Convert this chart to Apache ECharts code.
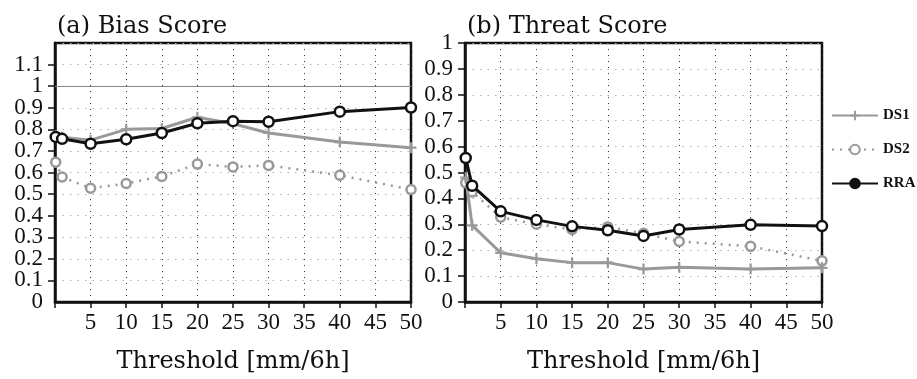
<!DOCTYPE html>
<html>
<head>
<meta charset="utf-8">
<script src="https://cdn.jsdelivr.net/npm/echarts@6/dist/echarts.min.js"></script>
<style>
  html, body { margin: 0; padding: 0; background: #fff; }
  #chart { width: 917px; height: 379px; }
</style>
</head>
<body>
<div id="chart"></div>
<script>
// Precipitation thresholds (mm/6h)
const thresholds = [0.1, 1, 5, 10, 15, 20, 25, 30, 40, 50];

// (a) Bias score
const biasDS1 = [0.772, 0.763, 0.750, 0.800, 0.804, 0.856, 0.826, 0.783, 0.741, 0.715];
const biasDS2 = [0.648, 0.579, 0.527, 0.549, 0.582, 0.639, 0.626, 0.633, 0.587, 0.521];
const biasRRA = [0.765, 0.756, 0.733, 0.754, 0.783, 0.828, 0.838, 0.835, 0.882, 0.901];

// (b) Threat score
const threatDS1 = [0.480, 0.296, 0.190, 0.167, 0.152, 0.152, 0.127, 0.134, 0.127, 0.132];
const threatDS2 = [0.460, 0.425, 0.327, 0.300, 0.280, 0.290, 0.265, 0.234, 0.215, 0.159];
const threatRRA = [0.556, 0.449, 0.350, 0.317, 0.292, 0.277, 0.255, 0.280, 0.298, 0.293];

const panelTitles = ['(a) Bias Score', '(b) Threat Score'];
const xName = 'Threshold [mm/6h]';
const biasReference = 1;

const GRAY = '#999999';
const SERIF = '"DejaVu Serif", "Liberation Serif", serif';
const TICK_FONT = '"Liberation Serif", "DejaVu Serif", serif';
const PLUS = 'path://M4,0H6V4H10V6H6V10H4V6H0V4H4Z';

const pairs = (ys) => thresholds.map((t, i) => [t, ys[i]]);
const fmt = (v) => String(Math.round(v * 10) / 10);

function xAxisFor(gridIndex) {
  return {
    type: 'value', gridIndex, min: 0, max: 50, interval: 5,
    name: xName, nameLocation: 'middle', nameGap: 48,
    nameTextStyle: { fontFamily: SERIF, fontSize: 24, color: '#111' },
    axisLine: { show: true, lineStyle: { color: '#111', width: 2.5 } },
    axisTick: { show: true, length: 6, lineStyle: { color: '#111', width: 1.5 } },
    axisLabel: {
      fontFamily: TICK_FONT, fontSize: 23, color: '#111', margin: 9,
      formatter: (v) => (v === 0 ? '' : String(v))
    },
    splitLine: { show: true, lineStyle: { color: '#333', width: 1, type: [1, 5] } }
  };
}

function yAxisFor(gridIndex, max, showMin, showMax) {
  return {
    type: 'value', gridIndex, position: 'left', min: 0, max, interval: 0.1,
    axisLine: { show: true, lineStyle: { color: '#111', width: 2.5 } },
    axisTick: { show: true, length: 7, lineStyle: { color: '#111', width: 1.5 } },
    axisLabel: {
      fontFamily: TICK_FONT, fontSize: 23, color: '#111', margin: 12,
      showMinLabel: showMin, showMaxLabel: showMax,
      formatter: fmt
    },
    splitLine: { show: true, lineStyle: { color: '#b0b0b0', width: 1, type: [1.5, 6] } }
  };
}

// Companion axis that only carries the "0" label of the tightly spaced bias axis
function zeroLabelAxis(gridIndex, max) {
  return {
    type: 'value', gridIndex, position: 'left', offset: 0, min: 0, max, interval: 0.1,
    axisLine: { show: false }, axisTick: { show: false }, splitLine: { show: false },
    axisLabel: {
      fontFamily: TICK_FONT, fontSize: 23, color: '#111', margin: 12,
      showMinLabel: true, showMaxLabel: false,
      formatter: (v) => (v === 0 ? '0' : '')
    }
  };
}

function seriesFor(gridIndex, d1, d2, rra, withRef) {
  const s = [
    {
      name: 'DS2', type: 'line', xAxisIndex: gridIndex, yAxisIndex: gridIndex,
      data: pairs(d2), clip: false, z: 3,
      symbol: 'circle', symbolSize: 9, showAllSymbol: true,
      lineStyle: { color: GRAY, width: 2.5, type: [2, 6] },
      itemStyle: { color: '#fff', borderColor: GRAY, borderWidth: 2.5 }
    },
    {
      name: 'DS1', type: 'line', xAxisIndex: gridIndex, yAxisIndex: gridIndex,
      data: pairs(d1), clip: false, z: 4,
      symbol: PLUS, symbolSize: 11, showAllSymbol: true,
      lineStyle: { color: GRAY, width: 3 },
      itemStyle: { color: GRAY, borderWidth: 0 }
    },
    {
      name: 'RRA', type: 'line', xAxisIndex: gridIndex, yAxisIndex: gridIndex,
      data: pairs(rra), clip: false, z: 5,
      symbol: 'circle', symbolSize: 10, showAllSymbol: true,
      lineStyle: { color: '#111', width: 3 },
      itemStyle: { color: '#fff', borderColor: '#111', borderWidth: 2.5 }
    }
  ];
  if (withRef) {
    s[0].markLine = {
      silent: true, symbol: 'none', animation: false,
      label: { show: false },
      lineStyle: { color: '#888', width: 1.2, type: 'solid' },
      data: [{ yAxis: biasReference }]
    };
  }
  return s;
}

const chart = echarts.init(document.getElementById('chart'), null, { renderer: 'canvas' });

chart.setOption({
  animation: false,
  backgroundColor: '#fff',
  title: [
    { text: panelTitles[0], left: 52, top: 10,
      textStyle: { fontFamily: SERIF, fontSize: 24, fontWeight: 'normal', color: '#111' } },
    { text: panelTitles[1], left: 462, top: 10,
      textStyle: { fontFamily: SERIF, fontSize: 24, fontWeight: 'normal', color: '#111' } }
  ],
  grid: [
    { left: 55, right: 506, top: 43, bottom: 69, show: true, borderColor: '#111', borderWidth: 2.5, backgroundColor: 'transparent' },
    { left: 465, right: 95, top: 43, bottom: 69, show: true, borderColor: '#111', borderWidth: 2.5, backgroundColor: 'transparent' }
  ],
  xAxis: [xAxisFor(0), xAxisFor(1)],
  yAxis: [yAxisFor(0, 1.2, false, false), yAxisFor(1, 1, true, true), zeroLabelAxis(0, 1.2)],
  legend: {
    orient: 'vertical', left: 826, top: 103,
    itemWidth: 46, itemHeight: 12, itemGap: 19,
    textStyle: { fontFamily: '"Liberation Serif", serif', fontWeight: 'bold', fontSize: 15, color: '#111' },
    data: [
      { name: 'DS1', itemStyle: { color: GRAY } },
      { name: 'DS2', itemStyle: { color: '#fff', borderColor: GRAY, borderWidth: 2 } },
      { name: 'RRA', itemStyle: { color: '#111', borderColor: '#111' } }
    ]
  },
  series: [
    ...seriesFor(0, biasDS1, biasDS2, biasRRA, true),
    ...seriesFor(1, threatDS1, threatDS2, threatRRA, false)
  ]
});
</script>
</body>
</html>
